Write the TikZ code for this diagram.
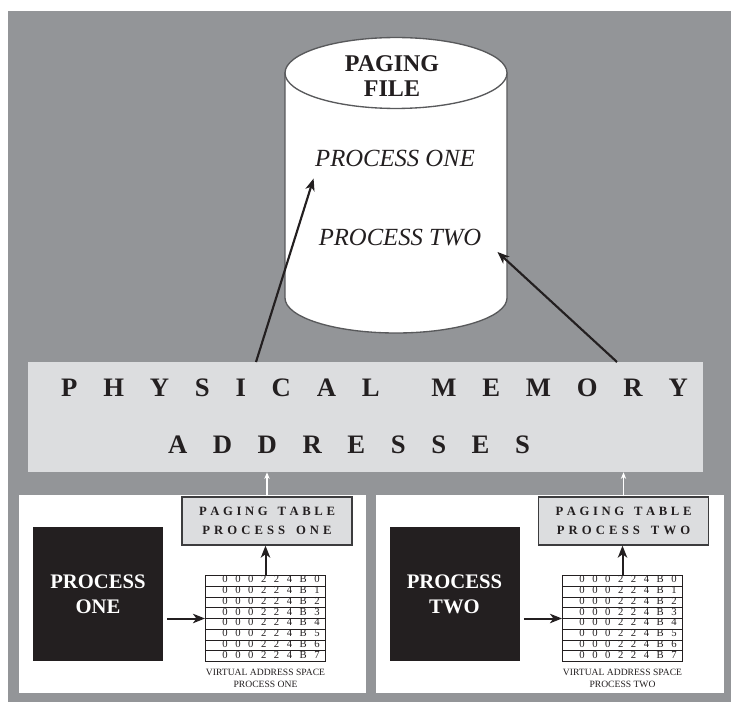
\documentclass[tikz,border=0pt]{standalone}
\usepackage{fontspec}
\setmainfont{Liberation Serif}
\usetikzlibrary{arrows.meta, positioning}

\definecolor{bggray}{RGB}{147,149,152}
\definecolor{bandgray}{RGB}{220,221,223}
\definecolor{inkblack}{RGB}{35,31,32}
\definecolor{cylline}{RGB}{88,89,91}
\definecolor{tabline}{RGB}{60,60,62}

% one line of the virtual address space: eight spread-out cells
\newcommand{\vrow}[1]{\makebox[73pt][s]{0 0 0 2 2 4 B #1}}
\newcommand{\vastable}{%
	{\setlength{\arrayrulewidth}{0.6pt}%
	\fontsize{8}{7.2}\selectfont
	\begin{tabular}{|@{\hspace{12.5pt}}c@{\hspace{4.5pt}}|}
		\hline \vrow{0}\\ \hline \vrow{1}\\ \hline \vrow{2}\\ \hline \vrow{3}\\
		\hline \vrow{4}\\ \hline \vrow{5}\\ \hline \vrow{6}\\ \hline \vrow{7}\\
		\hline
	\end{tabular}}}
% wider gap between the two words of a tracked caption
\newcommand{\wgap}{\ \hspace{2pt}\ }

\begin{document}
\begin{tikzpicture}[
		x=0.75pt, y=-0.75pt,
		membar/.style={fill=bandgray, minimum width=506.25pt, minimum height=82.5pt,
			inner sep=0pt},
		spread/.style={font=\fontsize{20}{24}\selectfont\bfseries, text=inkblack,
			inner sep=0pt},
		proc/.style={fill=inkblack, text=white, minimum width=97.5pt,
			minimum height=100.5pt, align=center,
			font=\fontsize{15.5}{18.75}\selectfont\bfseries},
		ptab/.style={draw=tabline, line width=0.9pt, fill=bandgray, text=inkblack,
			minimum width=127.5pt, minimum height=36pt, align=center, inner sep=0pt,
			font=\fontsize{9.5}{14.25}\selectfont\bfseries},
		vas/.style={inner sep=0pt, text=inkblack},
		vlab/.style={font=\fontsize{7.2}{9}\selectfont, align=center, inner sep=0pt,
			text=inkblack},
		pfile/.style={font=\fontsize{18.5}{22}\selectfont\itshape, text=inkblack},
		arr/.style={-{Stealth[length=9pt, width=7pt, inset=2.5pt]}, line width=1.5pt,
			draw=inkblack},
		warr/.style={-{Stealth[length=5pt, width=4pt]}, line width=0.8pt, draw=white}
	]
	\useasboundingbox (0,0) rectangle (731,702);
	% grey sheet with the two white process panels
	\fill[bggray] (8,11) rectangle (731,702);
	\fill[white] (19,495) rectangle (366,693);
	\fill[white] (376,495) rectangle (724,693);

	% the paging file on disk
	\path[fill=white, draw=cylline, line width=1pt]
		(285,73) -- (285,298)
		arc[start angle=180, end angle=360, x radius=83.25pt, y radius=26.25pt]
		-- (507,73) -- cycle;
	\draw[fill=white, draw=cylline, line width=1pt]
		(396,73) ellipse [x radius=83.25pt, y radius=26.6pt];
	\node[font=\fontsize{18}{19}\selectfont\bfseries, align=center,
		text=inkblack, inner sep=0pt] (pfname) at (392,76) {PAGING\\FILE};
	\node[pfile, inner xsep=1pt, inner ysep=9pt] (p1) at (395,158) {PROCESS ONE};
	\node[pfile, inner xsep=12pt, inner ysep=4pt] (p2) at (400,238) {PROCESS TWO};

	% physical memory band
	\node[membar] (band) at (365.5,417) {};
	\node[spread] (phys) at (374.5,388)
		{\makebox[470pt][s]{P H Y S I C A L\ \ M E M O R Y}};
	\node[spread] (addr) at (349,445)
		{\makebox[271.5pt][s]{A D D R E S S E S}};

	% pages leave memory for the paging file
	\coordinate (up1) at (256,362);
	\coordinate (up2) at (617,362);
	\draw[arr, line width=1.6pt] (up1) -- (p1.south west);
	\draw[arr, line width=1.6pt] (up2) -- (p2.south east);

	% process one
	\node[proc] (proc1) at (98,594) {PROCESS\\ONE};
	\node[ptab] (ptab1) at (267,521)
		{\makebox[102pt][s]{P A G I N G\wgap T A B L E}\\
		\makebox[97pt][s]{P R O C E S S\wgap O N E}};
	\node[vas] (vas1) at (265.5,618.5) {\vastable};
	\node[vlab, below=5pt of vas1] (vlab1) {VIRTUAL ADDRESS SPACE\\PROCESS ONE};
	\draw[arr] ([xshift=3pt]proc1.east |- vas1.west) -- (vas1.west);
	\draw[arr] (vas1.north) -- (vas1.north |- ptab1.south);
	\draw[warr] (ptab1.north) -- (ptab1.north |- band.south);

	% process two
	\node[proc] (proc2) at (454.5,594) {PROCESS\\TWO};
	\node[ptab] (ptab2) at (623.5,521)
		{\makebox[102pt][s]{P A G I N G\wgap T A B L E}\\
		\makebox[100pt][s]{P R O C E S S\wgap T W O}};
	\node[vas] (vas2) at (622.5,618.5) {\vastable};
	\node[vlab, below=5pt of vas2] (vlab2) {VIRTUAL ADDRESS SPACE\\PROCESS TWO};
	\draw[arr] ([xshift=3pt]proc2.east |- vas2.west) -- (vas2.west);
	\draw[arr] (vas2.north) -- (vas2.north |- ptab2.south);
	\draw[warr] (ptab2.north) -- (ptab2.north |- band.south);
\end{tikzpicture}
\end{document}
